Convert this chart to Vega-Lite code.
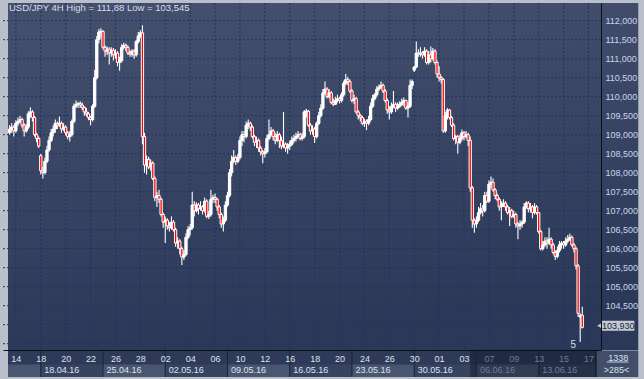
{
"$schema": "https://vega.github.io/schema/vega-lite/v6.json",
"width": 598, "height": 347,
"autosize": "none",
"padding": {"left": 3, "top": 3, "right": 43, "bottom": 29},
"background": "#b9c0cc",
"config": {"view": {"stroke": null}, "font": "Liberation Sans", "axis": {"labelFont": "Liberation Sans", "labelFontSize": 9}},
"datasets": {
"candles": [
{"i":-3,"o":109.05,"h":109.25,"l":109.0,"c":109.15},
{"i":-2,"o":109.15,"h":109.3,"l":109.05,"c":109.2},
{"i":-1,"o":109.2,"h":109.25,"l":108.95,"c":109.1},
{"i":0,"o":109.1,"h":109.38,"l":109.05,"c":109.3},
{"i":1,"o":109.3,"h":109.45,"l":109.22,"c":109.35},
{"i":2,"o":109.35,"h":109.5,"l":109.3,"c":109.4},
{"i":3,"o":109.4,"h":109.45,"l":109.18,"c":109.25},
{"i":4,"o":109.25,"h":109.3,"l":108.95,"c":109.1},
{"i":5,"o":109.1,"h":109.28,"l":109.05,"c":109.2},
{"i":6,"o":109.2,"h":109.62,"l":109.15,"c":109.55},
{"i":7,"o":109.55,"h":109.72,"l":109.45,"c":109.6},
{"i":8,"o":109.6,"h":109.65,"l":109.35,"c":109.45},
{"i":9,"o":109.45,"h":109.5,"l":108.95,"c":109.0},
{"i":10,"o":109.0,"h":109.05,"l":108.8,"c":108.9},
{"i":11,"o":108.9,"h":108.95,"l":108.65,"c":108.7},
{"i":12,"o":108.45,"h":108.5,"l":107.95,"c":108.05},
{"i":13,"o":108.05,"h":108.15,"l":107.85,"c":108.0},
{"i":14,"o":108.0,"h":108.4,"l":107.95,"c":108.3},
{"i":15,"o":108.3,"h":108.7,"l":108.25,"c":108.6},
{"i":16,"o":108.6,"h":108.95,"l":108.55,"c":108.85},
{"i":17,"o":108.85,"h":109.15,"l":108.8,"c":109.05},
{"i":18,"o":109.05,"h":109.25,"l":108.95,"c":109.15},
{"i":19,"o":109.15,"h":109.4,"l":109.05,"c":109.3},
{"i":20,"o":109.3,"h":109.35,"l":109.15,"c":109.25},
{"i":21,"o":109.25,"h":109.48,"l":109.2,"c":109.3},
{"i":22,"o":109.3,"h":109.35,"l":109.05,"c":109.15},
{"i":23,"o":109.15,"h":109.3,"l":109.1,"c":109.2},
{"i":24,"o":109.2,"h":109.25,"l":108.98,"c":109.05},
{"i":25,"o":109.05,"h":109.1,"l":108.88,"c":108.95},
{"i":26,"o":108.95,"h":109.1,"l":108.82,"c":109.0},
{"i":27,"o":109.0,"h":109.4,"l":108.95,"c":109.35},
{"i":28,"o":109.35,"h":109.82,"l":109.3,"c":109.75},
{"i":29,"o":109.75,"h":109.9,"l":109.7,"c":109.8},
{"i":30,"o":109.8,"h":109.86,"l":109.7,"c":109.82},
{"i":31,"o":109.82,"h":109.88,"l":109.7,"c":109.78},
{"i":32,"o":109.78,"h":109.85,"l":109.65,"c":109.72},
{"i":33,"o":109.72,"h":109.75,"l":109.5,"c":109.6},
{"i":34,"o":109.6,"h":109.7,"l":109.48,"c":109.55},
{"i":35,"o":109.55,"h":109.6,"l":109.38,"c":109.45},
{"i":36,"o":109.45,"h":109.5,"l":109.25,"c":109.4},
{"i":37,"o":109.4,"h":109.8,"l":109.35,"c":109.75},
{"i":38,"o":109.75,"h":110.7,"l":109.7,"c":110.5},
{"i":39,"o":110.5,"h":111.6,"l":110.45,"c":111.5},
{"i":40,"o":111.5,"h":111.78,"l":111.4,"c":111.7},
{"i":41,"o":111.7,"h":111.8,"l":111.55,"c":111.72},
{"i":42,"o":111.72,"h":111.75,"l":111.25,"c":111.3},
{"i":43,"o":111.3,"h":111.35,"l":111.05,"c":111.2},
{"i":44,"o":111.2,"h":111.32,"l":111.1,"c":111.25},
{"i":45,"o":111.25,"h":111.3,"l":110.85,"c":111.15},
{"i":46,"o":111.15,"h":111.3,"l":111.05,"c":111.22},
{"i":47,"o":111.22,"h":111.28,"l":110.95,"c":111.1},
{"i":48,"o":111.1,"h":111.25,"l":111.0,"c":111.15},
{"i":49,"o":111.15,"h":111.2,"l":110.8,"c":110.9},
{"i":50,"o":110.9,"h":111.05,"l":110.68,"c":110.95},
{"i":51,"o":110.95,"h":111.38,"l":110.9,"c":111.3},
{"i":52,"o":111.3,"h":111.42,"l":111.25,"c":111.35},
{"i":53,"o":111.35,"h":111.4,"l":111.2,"c":111.3},
{"i":54,"o":111.3,"h":111.35,"l":111.1,"c":111.15},
{"i":55,"o":111.15,"h":111.22,"l":111.05,"c":111.12},
{"i":56,"o":111.12,"h":111.25,"l":111.05,"c":111.2},
{"i":57,"o":111.2,"h":111.25,"l":111.0,"c":111.1},
{"i":58,"o":111.1,"h":111.5,"l":111.05,"c":111.45},
{"i":59,"o":111.45,"h":111.7,"l":111.4,"c":111.6},
{"i":60,"o":111.6,"h":111.75,"l":111.55,"c":111.68},
{"i":61,"o":111.68,"h":111.88,"l":108.75,"c":108.95},
{"i":62,"o":108.95,"h":109.05,"l":108.0,"c":108.2},
{"i":63,"o":108.2,"h":108.45,"l":107.95,"c":108.35},
{"i":64,"o":108.35,"h":108.42,"l":108.1,"c":108.15},
{"i":65,"o":108.15,"h":108.35,"l":108.05,"c":108.25},
{"i":66,"o":108.25,"h":108.3,"l":107.8,"c":107.85},
{"i":67,"o":107.85,"h":107.9,"l":107.25,"c":107.35},
{"i":68,"o":107.35,"h":107.5,"l":107.1,"c":107.4},
{"i":69,"o":107.4,"h":107.55,"l":107.2,"c":107.3},
{"i":70,"o":107.3,"h":107.35,"l":106.85,"c":106.9},
{"i":71,"o":106.9,"h":106.95,"l":106.55,"c":106.7},
{"i":72,"o":106.7,"h":106.85,"l":106.15,"c":106.75},
{"i":73,"o":106.75,"h":106.8,"l":106.5,"c":106.6},
{"i":74,"o":106.6,"h":106.7,"l":106.45,"c":106.55},
{"i":75,"o":106.55,"h":106.85,"l":106.5,"c":106.7},
{"i":76,"o":106.7,"h":106.75,"l":106.45,"c":106.5},
{"i":77,"o":106.5,"h":106.55,"l":106.05,"c":106.15},
{"i":78,"o":106.15,"h":106.3,"l":106.0,"c":106.2},
{"i":79,"o":106.2,"h":106.25,"l":105.85,"c":106.0},
{"i":80,"o":106.0,"h":106.05,"l":105.57,"c":105.78},
{"i":81,"o":105.78,"h":105.95,"l":105.7,"c":105.85},
{"i":82,"o":105.85,"h":106.4,"l":105.8,"c":106.3},
{"i":83,"o":106.3,"h":106.6,"l":106.25,"c":106.5},
{"i":84,"o":106.5,"h":106.65,"l":106.35,"c":106.55},
{"i":85,"o":106.55,"h":107.5,"l":106.5,"c":107.15},
{"i":86,"o":107.15,"h":107.25,"l":106.85,"c":107.0},
{"i":87,"o":107.0,"h":107.22,"l":106.95,"c":107.15},
{"i":88,"o":107.15,"h":107.2,"l":106.9,"c":107.05},
{"i":89,"o":107.05,"h":107.25,"l":107.0,"c":107.1},
{"i":90,"o":107.1,"h":107.15,"l":106.9,"c":107.0},
{"i":91,"o":107.0,"h":107.35,"l":106.95,"c":107.25},
{"i":92,"o":107.25,"h":107.3,"l":106.8,"c":106.85},
{"i":93,"o":106.85,"h":107.0,"l":106.78,"c":106.9},
{"i":94,"o":106.9,"h":107.55,"l":106.85,"c":107.3},
{"i":95,"o":107.3,"h":107.42,"l":107.2,"c":107.35},
{"i":96,"o":107.35,"h":107.45,"l":107.2,"c":107.3},
{"i":97,"o":107.3,"h":107.35,"l":107.0,"c":107.1},
{"i":98,"o":107.1,"h":107.15,"l":106.8,"c":106.9},
{"i":99,"o":106.9,"h":106.95,"l":106.55,"c":106.65},
{"i":100,"o":106.65,"h":106.85,"l":106.45,"c":106.75},
{"i":101,"o":106.75,"h":107.25,"l":106.7,"c":107.15},
{"i":102,"o":107.15,"h":107.5,"l":107.1,"c":107.4},
{"i":103,"o":107.4,"h":108.1,"l":107.35,"c":108.0},
{"i":104,"o":108.0,"h":108.45,"l":107.9,"c":108.3},
{"i":105,"o":108.3,"h":108.6,"l":108.25,"c":108.4},
{"i":106,"o":108.4,"h":108.45,"l":108.2,"c":108.3},
{"i":107,"o":108.3,"h":108.5,"l":108.25,"c":108.4},
{"i":108,"o":108.4,"h":108.95,"l":108.35,"c":108.85},
{"i":109,"o":108.85,"h":109.1,"l":108.7,"c":109.0},
{"i":110,"o":109.0,"h":109.1,"l":108.8,"c":108.95},
{"i":111,"o":108.95,"h":109.35,"l":108.9,"c":109.25},
{"i":112,"o":109.25,"h":109.4,"l":109.15,"c":109.3},
{"i":113,"o":109.3,"h":109.35,"l":109.1,"c":109.2},
{"i":114,"o":109.2,"h":109.25,"l":108.9,"c":108.95},
{"i":115,"o":108.95,"h":109.0,"l":108.7,"c":108.8},
{"i":116,"o":108.8,"h":108.95,"l":108.65,"c":108.85},
{"i":117,"o":108.85,"h":108.9,"l":108.55,"c":108.65},
{"i":118,"o":108.65,"h":108.7,"l":108.45,"c":108.55},
{"i":119,"o":108.55,"h":108.6,"l":108.25,"c":108.5},
{"i":120,"o":108.5,"h":108.65,"l":108.4,"c":108.55},
{"i":121,"o":108.55,"h":109.0,"l":108.5,"c":108.9},
{"i":122,"o":108.9,"h":109.4,"l":108.85,"c":109.0},
{"i":123,"o":109.0,"h":109.2,"l":108.95,"c":109.1},
{"i":124,"o":109.1,"h":109.15,"l":108.85,"c":108.95},
{"i":125,"o":108.95,"h":109.05,"l":108.75,"c":108.85},
{"i":126,"o":108.85,"h":109.1,"l":108.8,"c":109.0},
{"i":127,"o":109.0,"h":109.05,"l":108.65,"c":108.85},
{"i":128,"o":108.85,"h":108.95,"l":108.62,"c":108.7},
{"i":129,"o":108.7,"h":109.6,"l":108.65,"c":108.75},
{"i":130,"o":108.75,"h":108.8,"l":108.55,"c":108.65},
{"i":131,"o":108.65,"h":108.78,"l":108.5,"c":108.7},
{"i":132,"o":108.7,"h":108.85,"l":108.6,"c":108.75},
{"i":133,"o":108.75,"h":108.95,"l":108.7,"c":108.85},
{"i":134,"o":108.85,"h":109.0,"l":108.78,"c":108.9},
{"i":135,"o":108.9,"h":109.05,"l":108.82,"c":108.95},
{"i":136,"o":108.95,"h":109.1,"l":108.9,"c":109.0},
{"i":137,"o":109.0,"h":109.05,"l":108.85,"c":108.9},
{"i":138,"o":108.9,"h":109.05,"l":108.85,"c":108.95},
{"i":139,"o":108.95,"h":109.65,"l":108.9,"c":109.6},
{"i":140,"o":109.6,"h":109.68,"l":109.45,"c":109.62},
{"i":141,"o":109.62,"h":109.65,"l":109.2,"c":109.25},
{"i":142,"o":109.25,"h":109.3,"l":109.0,"c":109.1},
{"i":143,"o":109.1,"h":109.25,"l":109.0,"c":109.15},
{"i":144,"o":109.15,"h":109.2,"l":108.78,"c":108.95},
{"i":145,"o":108.95,"h":109.35,"l":108.9,"c":109.3},
{"i":146,"o":109.3,"h":109.6,"l":109.25,"c":109.5},
{"i":147,"o":109.5,"h":109.8,"l":109.45,"c":109.7},
{"i":148,"o":109.7,"h":110.2,"l":109.65,"c":110.1},
{"i":149,"o":110.1,"h":110.4,"l":110.05,"c":110.2},
{"i":150,"o":110.2,"h":110.25,"l":109.95,"c":110.0},
{"i":151,"o":110.0,"h":110.2,"l":109.95,"c":110.1},
{"i":152,"o":110.1,"h":110.15,"l":109.8,"c":109.85},
{"i":153,"o":109.85,"h":109.95,"l":109.75,"c":109.8},
{"i":154,"o":109.8,"h":110.0,"l":109.78,"c":109.9},
{"i":155,"o":109.9,"h":110.05,"l":109.85,"c":109.95},
{"i":156,"o":109.95,"h":110.0,"l":109.82,"c":109.9},
{"i":157,"o":109.9,"h":110.12,"l":109.85,"c":110.05},
{"i":158,"o":110.05,"h":110.42,"l":110.0,"c":110.35},
{"i":159,"o":110.35,"h":110.6,"l":110.3,"c":110.45},
{"i":160,"o":110.45,"h":110.52,"l":110.3,"c":110.4},
{"i":161,"o":110.4,"h":110.45,"l":110.1,"c":110.15},
{"i":162,"o":110.15,"h":110.2,"l":109.85,"c":109.9},
{"i":163,"o":109.9,"h":110.05,"l":109.8,"c":109.95},
{"i":164,"o":109.95,"h":110.0,"l":109.55,"c":109.6},
{"i":165,"o":109.6,"h":109.65,"l":109.4,"c":109.5},
{"i":166,"o":109.5,"h":109.55,"l":109.35,"c":109.45},
{"i":167,"o":109.45,"h":109.5,"l":109.25,"c":109.3},
{"i":168,"o":109.3,"h":109.42,"l":109.2,"c":109.35},
{"i":169,"o":109.35,"h":109.4,"l":109.12,"c":109.3},
{"i":170,"o":109.3,"h":109.5,"l":109.25,"c":109.4},
{"i":171,"o":109.4,"h":109.85,"l":109.35,"c":109.75},
{"i":172,"o":109.75,"h":110.05,"l":109.7,"c":109.95},
{"i":173,"o":109.95,"h":110.1,"l":109.9,"c":110.05},
{"i":174,"o":110.05,"h":110.28,"l":110.0,"c":110.2},
{"i":175,"o":110.2,"h":110.32,"l":110.15,"c":110.25},
{"i":176,"o":110.25,"h":110.4,"l":110.2,"c":110.3},
{"i":177,"o":110.3,"h":110.35,"l":110.1,"c":110.15},
{"i":178,"o":110.15,"h":110.2,"l":109.85,"c":109.9},
{"i":179,"o":109.9,"h":109.95,"l":109.55,"c":109.65},
{"i":180,"o":109.65,"h":109.75,"l":109.4,"c":109.6},
{"i":181,"o":109.6,"h":109.85,"l":109.55,"c":109.75},
{"i":182,"o":109.75,"h":110.15,"l":109.7,"c":109.8},
{"i":183,"o":109.8,"h":109.85,"l":109.6,"c":109.7},
{"i":184,"o":109.7,"h":109.85,"l":109.65,"c":109.75},
{"i":185,"o":109.75,"h":109.88,"l":109.7,"c":109.8},
{"i":186,"o":109.8,"h":109.95,"l":109.75,"c":109.85},
{"i":187,"o":109.85,"h":109.98,"l":109.75,"c":109.9},
{"i":188,"o":109.9,"h":109.92,"l":109.65,"c":109.7},
{"i":189,"o":109.7,"h":109.85,"l":109.45,"c":109.75},
{"i":190,"o":109.75,"h":110.45,"l":109.7,"c":110.3},
{"i":191,"o":110.3,"h":110.45,"l":110.2,"c":110.4},
{"i":192,"o":110.7,"h":110.8,"l":110.65,"c":110.78},
{"i":193,"o":110.78,"h":111.45,"l":110.75,"c":111.15},
{"i":194,"o":111.15,"h":111.25,"l":111.05,"c":111.12},
{"i":195,"o":111.12,"h":111.3,"l":111.05,"c":111.15},
{"i":196,"o":111.15,"h":111.2,"l":111.0,"c":111.1},
{"i":197,"o":111.1,"h":111.3,"l":111.05,"c":111.2},
{"i":198,"o":111.2,"h":111.25,"l":110.85,"c":110.9},
{"i":199,"o":110.9,"h":111.2,"l":110.85,"c":111.1},
{"i":200,"o":111.1,"h":111.32,"l":110.9,"c":111.0},
{"i":201,"o":111.0,"h":111.28,"l":110.95,"c":111.2},
{"i":202,"o":111.2,"h":111.25,"l":110.85,"c":110.9},
{"i":203,"o":110.9,"h":110.95,"l":110.5,"c":110.6},
{"i":204,"o":110.6,"h":110.8,"l":110.4,"c":110.5},
{"i":205,"o":110.5,"h":110.55,"l":110.35,"c":110.45},
{"i":206,"o":110.45,"h":110.5,"l":109.05,"c":109.1},
{"i":207,"o":109.1,"h":109.6,"l":109.05,"c":109.5},
{"i":208,"o":109.5,"h":109.7,"l":109.4,"c":109.65},
{"i":209,"o":109.65,"h":109.68,"l":109.4,"c":109.45},
{"i":210,"o":109.45,"h":109.5,"l":109.2,"c":109.25},
{"i":211,"o":109.25,"h":109.3,"l":108.85,"c":108.9},
{"i":212,"o":108.9,"h":109.0,"l":108.75,"c":108.95},
{"i":213,"o":108.95,"h":109.0,"l":108.5,"c":108.8},
{"i":214,"o":108.8,"h":109.0,"l":108.75,"c":108.9},
{"i":215,"o":108.9,"h":109.14,"l":108.85,"c":109.05},
{"i":216,"o":109.05,"h":109.1,"l":108.85,"c":108.95},
{"i":217,"o":108.95,"h":109.1,"l":108.9,"c":109.0},
{"i":218,"o":109.0,"h":109.05,"l":108.7,"c":108.85},
{"i":219,"o":108.85,"h":108.95,"l":107.5,"c":107.6},
{"i":220,"o":107.6,"h":107.65,"l":106.55,"c":106.75},
{"i":221,"o":106.75,"h":106.8,"l":106.42,"c":106.65},
{"i":222,"o":106.65,"h":106.85,"l":106.55,"c":106.75},
{"i":223,"o":106.75,"h":107.1,"l":106.7,"c":106.95},
{"i":224,"o":106.95,"h":107.2,"l":106.9,"c":107.05},
{"i":225,"o":107.05,"h":107.15,"l":106.85,"c":107.0},
{"i":226,"o":107.0,"h":107.5,"l":106.95,"c":107.4},
{"i":227,"o":107.4,"h":107.5,"l":107.2,"c":107.25},
{"i":228,"o":107.25,"h":107.8,"l":107.2,"c":107.7},
{"i":229,"o":107.7,"h":107.9,"l":107.6,"c":107.75},
{"i":230,"o":107.75,"h":107.85,"l":107.5,"c":107.55},
{"i":231,"o":107.55,"h":107.6,"l":107.3,"c":107.4},
{"i":232,"o":107.4,"h":107.45,"l":107.25,"c":107.3},
{"i":233,"o":107.3,"h":107.35,"l":107.0,"c":107.1},
{"i":234,"o":107.1,"h":107.25,"l":106.75,"c":107.15},
{"i":235,"o":107.15,"h":107.3,"l":107.1,"c":107.2},
{"i":236,"o":107.2,"h":107.25,"l":107.0,"c":107.1},
{"i":237,"o":107.1,"h":107.15,"l":106.9,"c":106.95},
{"i":238,"o":106.95,"h":107.1,"l":106.6,"c":107.0},
{"i":239,"o":107.0,"h":107.05,"l":106.8,"c":106.85},
{"i":240,"o":106.85,"h":107.0,"l":106.8,"c":106.9},
{"i":241,"o":106.9,"h":106.95,"l":106.55,"c":106.65},
{"i":242,"o":106.65,"h":106.7,"l":106.25,"c":106.6},
{"i":243,"o":106.6,"h":106.75,"l":106.5,"c":106.65},
{"i":244,"o":106.65,"h":106.75,"l":106.55,"c":106.7},
{"i":245,"o":106.7,"h":107.2,"l":106.65,"c":107.1},
{"i":246,"o":107.1,"h":107.25,"l":107.05,"c":107.2},
{"i":247,"o":107.2,"h":107.25,"l":106.95,"c":107.05},
{"i":248,"o":107.05,"h":107.2,"l":106.95,"c":107.1},
{"i":249,"o":107.1,"h":107.15,"l":106.8,"c":106.95},
{"i":250,"o":106.95,"h":107.2,"l":106.9,"c":107.1},
{"i":251,"o":107.1,"h":107.15,"l":106.9,"c":106.95},
{"i":252,"o":106.95,"h":106.95,"l":106.4,"c":106.45},
{"i":253,"o":106.45,"h":106.5,"l":105.95,"c":106.0},
{"i":254,"o":106.0,"h":106.2,"l":105.95,"c":106.1},
{"i":255,"o":106.1,"h":106.3,"l":106.05,"c":106.2},
{"i":256,"o":106.2,"h":106.3,"l":106.0,"c":106.15},
{"i":257,"o":106.15,"h":106.55,"l":106.1,"c":106.25},
{"i":258,"o":106.25,"h":106.3,"l":106.0,"c":106.1},
{"i":259,"o":106.1,"h":106.15,"l":105.85,"c":105.9},
{"i":260,"o":105.9,"h":105.95,"l":105.7,"c":105.8},
{"i":261,"o":105.8,"h":106.05,"l":105.75,"c":105.95},
{"i":262,"o":105.95,"h":106.2,"l":105.9,"c":106.1},
{"i":263,"o":106.1,"h":106.2,"l":106.0,"c":106.15},
{"i":264,"o":106.15,"h":106.2,"l":106.0,"c":106.1},
{"i":265,"o":106.1,"h":106.3,"l":106.05,"c":106.2},
{"i":266,"o":106.2,"h":106.36,"l":106.15,"c":106.25},
{"i":267,"o":106.25,"h":106.4,"l":106.2,"c":106.3},
{"i":268,"o":106.3,"h":106.35,"l":106.05,"c":106.1},
{"i":269,"o":106.1,"h":106.15,"l":105.9,"c":106.0},
{"i":270,"o":106.0,"h":106.05,"l":105.45,"c":105.55},
{"i":271,"o":105.55,"h":105.6,"l":104.2,"c":104.3},
{"i":272,"o":104.2,"h":104.3,"l":103.545,"c":104.25},
{"i":273,"o":104.25,"h":104.47,"l":103.9,"c":103.93}
],
"hgrid": [{"v":103.5},{"v":104},{"v":104.5},{"v":105},{"v":105.5},{"v":106},{"v":106.5},{"v":107},{"v":107.5},{"v":108},{"v":108.5},{"v":109},{"v":109.5},{"v":110},{"v":110.5},{"v":111},{"v":111.5},{"v":112}],
"days": [{"i":0,"d":"14"},{"i":12,"d":"18"},{"i":24,"d":"20"},{"i":36,"d":"22"},{"i":48,"d":"26"},{"i":60,"d":"28"},{"i":72,"d":"02"},{"i":84,"d":"04"},{"i":96,"d":"06"},{"i":108,"d":"10"},{"i":120,"d":"12"},{"i":132,"d":"16"},{"i":144,"d":"18"},{"i":156,"d":"20"},{"i":168,"d":"24"},{"i":180,"d":"26"},{"i":192,"d":"30"},{"i":204,"d":"01"},{"i":216,"d":"03"},{"i":228,"d":"07"},{"i":240,"d":"09"},{"i":252,"d":"13"},{"i":264,"d":"15"},{"i":276,"d":"17"}],
"weeks": [{"w":"","a":-3.7915,"b":12,"n":0},{"w":"18.04.16","a":12,"b":42,"n":1},{"w":"25.04.16","a":42,"b":72,"n":2},{"w":"02.05.16","a":72,"b":102,"n":3},{"w":"09.05.16","a":102,"b":132,"n":4},{"w":"16.05.16","a":132,"b":162,"n":5},{"w":"23.05.16","a":162,"b":192,"n":6},{"w":"30.05.16","a":192,"b":222,"n":7},{"w":"06.06.16","a":222,"b":252,"n":8},{"w":"13.06.16","a":252,"b":279.6209,"n":9}]
},
"layer": [
{"data": {"values": [{}]},
 "mark": {"type": "rect", "fill": {"gradient": "linear", "x1": 0, "y1": 0, "x2": 0.2, "y2": 1, "stops": [{"offset": 0, "color": "#45516f"}, {"offset": 1, "color": "#2c3857"}]}},
 "encoding": {
  "x": {"datum": -3.7915, "type": "quantitative", "scale": {"domain": [-3.7915, 279.6209], "nice": false, "zero": false}, "axis": null},
  "x2": {"datum": 300},
  "y": {"datum": 112.4658, "type": "quantitative", "scale": {"domain": [103.3342, 112.4658], "nice": false, "zero": false}, "axis": null},
  "y2": {"datum": 103.3342}}},
{"data": {"values": [{}]},
 "mark": {"type": "rect", "fill": "#2e3a57"},
 "encoding": {
  "x": {"datum": -3.7915, "type": "quantitative", "scale": {"domain": [-3.7915, 279.6209], "nice": false, "zero": false}, "axis": null},
  "x2": {"datum": 279.6209},
  "y": {"datum": 103.3211, "type": "quantitative", "scale": {"domain": [103.3342, 112.4658], "nice": false, "zero": false}, "axis": null},
  "y2": {"datum": 102.6237}}},
{"data": {"name": "weeks"},
 "mark": {"type": "rect"},
 "encoding": {
  "x": {"field": "a", "type": "quantitative", "scale": {"domain": [-3.7915, 279.6209], "nice": false, "zero": false},
   "axis": {"orient": "bottom", "values": [12, 42, 72, 102, 132, 162, 192, 222, 252], "labelExpr": "['18.04.16','25.04.16','02.05.16','09.05.16','16.05.16','23.05.16','30.05.16','06.06.16','13.06.16'][round((datum.value-12)/30)]", "grid": false, "ticks": false, "tickSize": 0, "domain": false, "labelPadding": 15, "labelAlign": "left", "labelOffset": 3, "labelFlush": false, "labelOverlap": false, "labelColor": {"condition": {"test": "datum.value >= 222", "value": "#6f7c98"}, "value": "#dde4f0"}, "title": null, "zindex": 1}},
  "x2": {"field": "b"},
  "y": {"datum": 102.9526, "type": "quantitative", "scale": {"domain": [103.3342, 112.4658], "nice": false, "zero": false}, "axis": null},
  "y2": {"datum": 102.6237},
  "fill": {"condition": {"test": "datum.n % 2 == 0", "value": "#4a5670"}, "value": "#37435f"}}},
{"data": {"values": [{}]},
 "mark": {"type": "rect", "fill": "#0d1424", "opacity": 0.4},
 "encoding": {
  "x": {"datum": 218.96, "type": "quantitative", "scale": {"domain": [-3.7915, 279.6209], "nice": false, "zero": false}, "axis": null},
  "x2": {"datum": 279.6209},
  "y": {"datum": 103.3211, "type": "quantitative", "scale": {"domain": [103.3342, 112.4658], "nice": false, "zero": false}, "axis": null},
  "y2": {"datum": 102.6237}}},
{"data": {"values": [{}]},
 "mark": {"type": "rect", "fill": "#414d69"},
 "encoding": {
  "x": {"datum": 279.6209, "type": "quantitative", "scale": {"domain": [-3.7915, 279.6209], "nice": false, "zero": false}, "axis": null},
  "x2": {"datum": 300},
  "y": {"datum": 103.3211, "type": "quantitative", "scale": {"domain": [103.3342, 112.4658], "nice": false, "zero": false}, "axis": null},
  "y2": {"datum": 102.6237}}},
{"data": {"name": "weeks"},
 "transform": [{"filter": "datum.n > 0"}],
 "mark": {"type": "rule", "color": "#1a2339", "strokeWidth": 1},
 "encoding": {
  "x": {"field": "a", "type": "quantitative", "scale": {"domain": [-3.7915, 279.6209], "nice": false, "zero": false}, "axis": null},
  "y": {"datum": 103.3211, "type": "quantitative", "scale": {"domain": [103.3342, 112.4658], "nice": false, "zero": false}, "axis": null},
  "y2": {"datum": 102.6237}}},
{"data": {"values": [{}]},
 "mark": {"type": "rule", "color": "#0b0f1a", "strokeWidth": 1},
 "encoding": {
  "x": {"datum": 279.6209, "type": "quantitative", "scale": {"domain": [-3.7915, 279.6209], "nice": false, "zero": false}, "axis": null},
  "y": {"datum": 103.3342, "type": "quantitative", "scale": {"domain": [103.3342, 112.4658], "nice": false, "zero": false}, "axis": null},
  "y2": {"datum": 102.6237}}},
{"data": {"name": "hgrid"},
 "mark": {"type": "rule", "color": "#1b3563", "strokeWidth": 1, "strokeDash": [2, 2]},
 "encoding": {
  "y": {"field": "v", "type": "quantitative", "scale": {"domain": [103.3342, 112.4658], "nice": false, "zero": false}, "axis": null}}},
{"data": {"name": "days"},
 "mark": {"type": "rule", "color": "#1b3563", "strokeWidth": 1, "strokeDash": [2, 2]},
 "encoding": {
  "x": {"field": "i", "type": "quantitative", "scale": {"domain": [-3.7915, 279.6209], "nice": false, "zero": false},
   "axis": {"orient": "bottom", "values": [0, 12, 24, 36, 48, 60, 72, 84, 96, 108, 120, 132, 144, 156, 168, 180, 192, 204, 216, 228, 240, 252, 264, 276], "labelExpr": "['14','18','20','22','26','28','02','04','06','10','12','16','18','20','24','26','30','01','03','07','09','13','15','17'][round(datum.value/12)]", "grid": false, "ticks": false, "tickSize": 0, "domain": true, "domainColor": "#0b0f1a", "domainWidth": 1, "labelPadding": 4, "labelAlign": "center", "labelFlush": false, "labelOverlap": false, "labelColor": {"condition": {"test": "datum.value >= 228", "value": "#6f7c98"}, "value": "#dde4f0"}, "title": null, "zindex": 1}}}},
{"data": {"name": "candles"},
 "mark": {"type": "rule", "color": "#ffffff", "strokeWidth": 1.1},
 "encoding": {
  "x": {"field": "i", "type": "quantitative", "scale": {"domain": [-3.7915, 279.6209], "nice": false, "zero": false}, "axis": null},
  "y": {"field": "l", "type": "quantitative", "scale": {"domain": [103.3342, 112.4658], "nice": false, "zero": false},
   "axis": {"orient": "right", "values": [104.5, 105, 105.5, 106, 106.5, 107, 107.5, 108, 108.5, 109, 109.5, 110, 110.5, 111, 111.5, 112], "labelExpr": "replace(format(datum.value, '.3f'), '.', ',')", "grid": false, "ticks": false, "tickSize": 0, "domain": true, "domainColor": "#0b0f1a", "domainWidth": 1, "labelPadding": 4, "labelColor": "#c9d6ec", "labelFlush": false, "labelOverlap": false, "title": null, "zindex": 1}},
  "y2": {"field": "h"}}},
{"data": {"name": "candles"},
 "mark": {"type": "bar", "size": 2.3, "stroke": "#ffffff", "strokeWidth": 1},
 "encoding": {
  "x": {"field": "i", "type": "quantitative", "scale": {"domain": [-3.7915, 279.6209], "nice": false, "zero": false}, "axis": null},
  "y": {"field": "o", "type": "quantitative", "scale": {"domain": [103.3342, 112.4658], "nice": false, "zero": false}, "axis": null},
  "y2": {"field": "c"},
  "fill": {"condition": {"test": "datum.c < datum.o", "value": "#ff0000"}, "value": "#ffffff"}}},
{"data": {"values": [{}]},
 "mark": {"type": "text", "text": "USD/JPY 4H  High = 111,88  Low = 103,545", "align": "left", "baseline": "middle", "fontSize": 9.5, "color": "#d6deec"},
 "encoding": {
  "x": {"datum": -3.32, "type": "quantitative", "scale": {"domain": [-3.7915, 279.6209], "nice": false, "zero": false}, "axis": null},
  "y": {"datum": 112.339, "type": "quantitative", "scale": {"domain": [103.3342, 112.4658], "nice": false, "zero": false}, "axis": null}}},
{"data": {"values": [{}]},
 "mark": {"type": "text", "text": "5", "align": "center", "baseline": "middle", "fontSize": 10, "color": "#d6deec"},
 "encoding": {
  "x": {"datum": 268.7, "type": "quantitative", "scale": {"domain": [-3.7915, 279.6209], "nice": false, "zero": false}, "axis": null},
  "y": {"datum": 103.47, "type": "quantitative", "scale": {"domain": [103.3342, 112.4658], "nice": false, "zero": false}, "axis": null}}},
{"data": {"values": [{}]},
 "mark": {"type": "text", "text": "1338", "align": "center", "baseline": "middle", "fontSize": 9, "color": "#dde4f0"},
 "encoding": {
  "x": {"datum": 290.3, "type": "quantitative", "scale": {"domain": [-3.7915, 279.6209], "nice": false, "zero": false}, "axis": null},
  "y": {"datum": 103.133, "type": "quantitative", "scale": {"domain": [103.3342, 112.4658], "nice": false, "zero": false}, "axis": null}}},
{"data": {"values": [{}]},
 "mark": {"type": "text", "text": ">285<", "align": "center", "baseline": "middle", "fontSize": 9, "color": "#dde4f0"},
 "encoding": {
  "x": {"datum": 289.5, "type": "quantitative", "scale": {"domain": [-3.7915, 279.6209], "nice": false, "zero": false}, "axis": null},
  "y": {"datum": 102.808, "type": "quantitative", "scale": {"domain": [103.3342, 112.4658], "nice": false, "zero": false}, "axis": null}}},
{"data": {"values": [{}]},
 "mark": {"type": "rule", "color": "#c9d2e2", "strokeWidth": 1},
 "encoding": {
  "x": {"datum": 284.8, "type": "quantitative", "scale": {"domain": [-3.7915, 279.6209], "nice": false, "zero": false}, "axis": null},
  "x2": {"datum": 295.3},
  "y": {"datum": 103.0184, "type": "quantitative", "scale": {"domain": [103.3342, 112.4658], "nice": false, "zero": false}, "axis": null}}},
{"data": {"values": [{}]},
 "mark": {"type": "rect", "fill": "#c3cad5"},
 "encoding": {
  "x": {"datum": 282.3, "type": "quantitative", "scale": {"domain": [-3.7915, 279.6209], "nice": false, "zero": false}, "axis": null},
  "x2": {"datum": 298.1},
  "y": {"datum": 104.105, "type": "quantitative", "scale": {"domain": [103.3342, 112.4658], "nice": false, "zero": false}, "axis": null},
  "y2": {"datum": 103.842}}},
{"data": {"values": [{}]},
 "mark": {"type": "point", "shape": "triangle-left", "filled": true, "size": 45, "color": "#c3cad5", "opacity": 1},
 "encoding": {
  "x": {"datum": 281.6, "type": "quantitative", "scale": {"domain": [-3.7915, 279.6209], "nice": false, "zero": false}, "axis": null},
  "y": {"datum": 103.973, "type": "quantitative", "scale": {"domain": [103.3342, 112.4658], "nice": false, "zero": false}, "axis": null}}},
{"data": {"values": [{}]},
 "mark": {"type": "text", "text": "103,930", "align": "center", "baseline": "middle", "fontSize": 9, "color": "#1b2333"},
 "encoding": {
  "x": {"datum": 290.3, "type": "quantitative", "scale": {"domain": [-3.7915, 279.6209], "nice": false, "zero": false}, "axis": null},
  "y": {"datum": 103.973, "type": "quantitative", "scale": {"domain": [103.3342, 112.4658], "nice": false, "zero": false}, "axis": null}}}
],
"resolve": {"axis": {"x": "independent", "y": "independent"}}
}
